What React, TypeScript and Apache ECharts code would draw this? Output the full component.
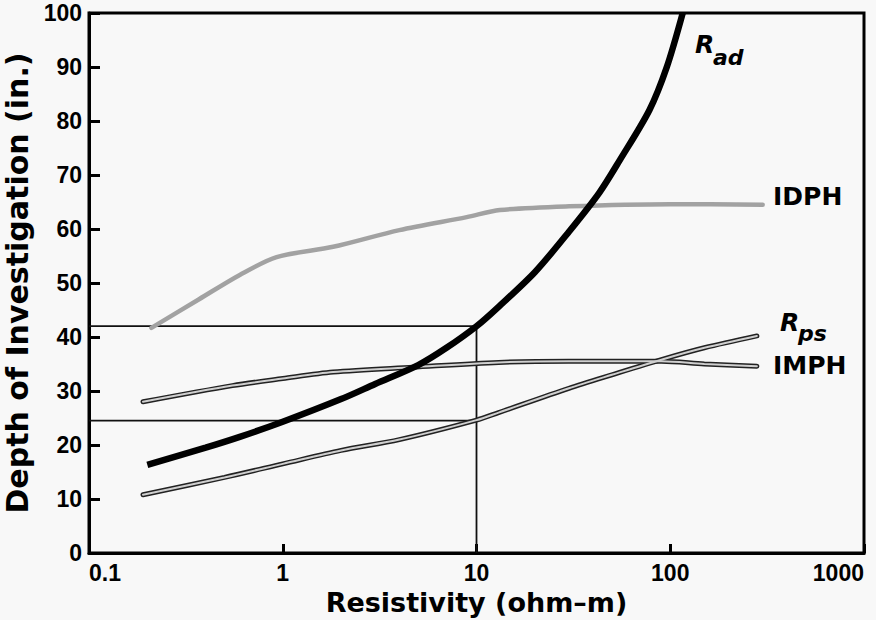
import React, { useEffect, useRef } from "react";
import * as echarts from "echarts";

// Resistivity (ohm-m) vs depth of investigation (in.)
const radX = [0.2, 0.4, 0.6, 1, 2, 3, 5, 7, 10, 13, 20, 30, 43, 55, 78, 96, 116];
const radY = [16.3, 19.5, 21.5, 24.3, 28.5, 31.3, 34.8, 38, 42, 45.6, 52, 59.5, 66.7, 72.8, 82, 90, 100];
const idphX = [0.21, 0.37, 0.6, 0.93, 1.82, 4, 8.9, 13.2, 30, 100, 300];
const idphY = [41.7, 47, 51.5, 54.8, 56.7, 59.8, 62.2, 63.5, 64.2, 64.6, 64.5];
const rpsX = [0.19, 0.5, 1, 2, 4, 10, 13, 30, 50, 90, 150, 280];
const rpsY = [10.8, 14, 16.5, 19, 21, 24.6, 26, 30.5, 33, 35.8, 38, 40.2];
const imphX = [0.19, 0.55, 1, 1.82, 4.7, 13, 30, 90, 150, 280];
const imphY = [28, 31, 32.3, 33.5, 34.4, 35.3, 35.5, 35.5, 35, 34.6];
const refLevels = [42, 24.5];
const refX = 10;
const xMin = 0.1;
const xMax = 1000;
const yTicks = [0, 10, 20, 30, 40, 50, 60, 70, 80, 90, 100];

const zip = (xs: number[], ys: number[]) => xs.map((x, i) => [x, ys[i]]);

const FONT = "Liberation Sans";
const WIDE = "DejaVu Sans";

export default function App() {
  const ref = useRef<HTMLDivElement>(null);
  useEffect(() => {
    if (!ref.current) return;
    const chart = echarts.init(ref.current, null, { renderer: "svg" });
    const refSeries: any[] = refLevels.map((lv) => ({
      type: "line",
      data: [
        [xMin, lv],
        [refX, lv],
      ],
      symbol: "none",
      lineStyle: { color: "#111", width: 1.8 },
      z: 1,
    }));
    refSeries.push({
      type: "line",
      data: [
        [refX, yTicks[0]],
        [refX, Math.max(...refLevels)],
      ],
      symbol: "none",
      lineStyle: { color: "#111", width: 1.8 },
      z: 1,
    });
    const outlined = (name: string, xs: number[], ys: number[]) => [
      {
        name,
        type: "line",
        data: zip(xs, ys),
        symbol: "none",
        smooth: 0.3,
        lineStyle: { color: "#222", width: 5, cap: "round" },
        z: 2,
      },
      {
        name: name + "-inner",
        type: "line",
        data: zip(xs, ys),
        symbol: "none",
        smooth: 0.3,
        lineStyle: { color: "#cfcfcf", width: 2, cap: "round" },
        z: 3,
      },
    ];
    chart.setOption({
      animation: false,
      backgroundColor: "#f8f8f8",
      grid: {
        left: 89,
        right: 12,
        top: 13,
        bottom: 67,
        containLabel: false,
        outerBoundsMode: "none",
        show: true,
        borderColor: "#000",
        borderWidth: 3,
      },
      xAxis: {
        type: "log",
        logBase: 10,
        min: xMin,
        max: xMax,
        name: "Resistivity (ohm–m)",
        nameLocation: "middle",
        nameGap: 36,
        nameTextStyle: { fontFamily: WIDE, fontWeight: "bold", fontSize: 27, color: "#000" },
        axisLine: { lineStyle: { color: "#000", width: 3 } },
        axisTick: { inside: true, length: 9, lineStyle: { color: "#000", width: 3 } },
        minorTick: { show: false },
        splitLine: { show: false },
        axisLabel: {
          fontFamily: FONT,
          fontWeight: "bold",
          fontSize: 23,
          color: "#000",
          margin: 8,
          alignMinLabel: "left",
          alignMaxLabel: "right",
          formatter: (v: number) => String(v),
        },
      },
      yAxis: {
        type: "value",
        min: 0,
        max: 100,
        interval: 10,
        name: "Depth of Investigation (in.)",
        nameLocation: "middle",
        nameGap: 39,
        nameTextStyle: { fontFamily: WIDE, fontWeight: "bold", fontSize: 30, color: "#000" },
        axisLine: { lineStyle: { color: "#000", width: 3 } },
        axisTick: { inside: true, length: 11, lineStyle: { color: "#000", width: 3 } },
        splitLine: { show: false },
        axisLabel: {
          fontFamily: FONT,
          fontWeight: "bold",
          fontSize: 23,
          color: "#000",
          margin: 7,
        },
      },
      series: [
        ...refSeries,
        {
          name: "IDPH",
          type: "line",
          data: zip(idphX, idphY),
          symbol: "none",
          smooth: 0.3,
          lineStyle: { color: "#a2a2a2", width: 4.5, cap: "round" },
          z: 2,
        },
        ...outlined("IMPH", imphX, imphY),
        ...outlined("Rps", rpsX, rpsY),
        {
          name: "Rad",
          type: "line",
          data: zip(radX, radY),
          symbol: "none",
          smooth: 0.3,
          lineStyle: { color: "#000", width: 6.5 },
          z: 5,
        },
      ],
      graphic: [
        { type: "text", left: 695, top: 32, style: { text: "R", fontFamily: WIDE, fontWeight: "bold", fontStyle: "italic", fontSize: 25, fill: "#000" } },
        { type: "text", left: 713, top: 46, style: { text: "ad", fontFamily: WIDE, fontWeight: "bold", fontStyle: "italic", fontSize: 22, fill: "#000" } },
        { type: "text", left: 773, top: 184, style: { text: "IDPH", fontFamily: WIDE, fontWeight: "bold", fontSize: 25, fill: "#000" } },
        { type: "text", left: 780, top: 310, style: { text: "R", fontFamily: WIDE, fontWeight: "bold", fontStyle: "italic", fontSize: 25, fill: "#000" } },
        { type: "text", left: 798, top: 322, style: { text: "ps", fontFamily: WIDE, fontWeight: "bold", fontStyle: "italic", fontSize: 22, fill: "#000" } },
        { type: "text", left: 773, top: 353, style: { text: "IMPH", fontFamily: WIDE, fontWeight: "bold", fontSize: 25, fill: "#000" } },
      ],
    });
    return () => chart.dispose();
  }, []);
  return (
    <div
      ref={ref}
      style={{ position: "fixed", left: 0, top: 0, width: 876, height: 620, background: "#f8f8f8" }}
    />
  );
}
